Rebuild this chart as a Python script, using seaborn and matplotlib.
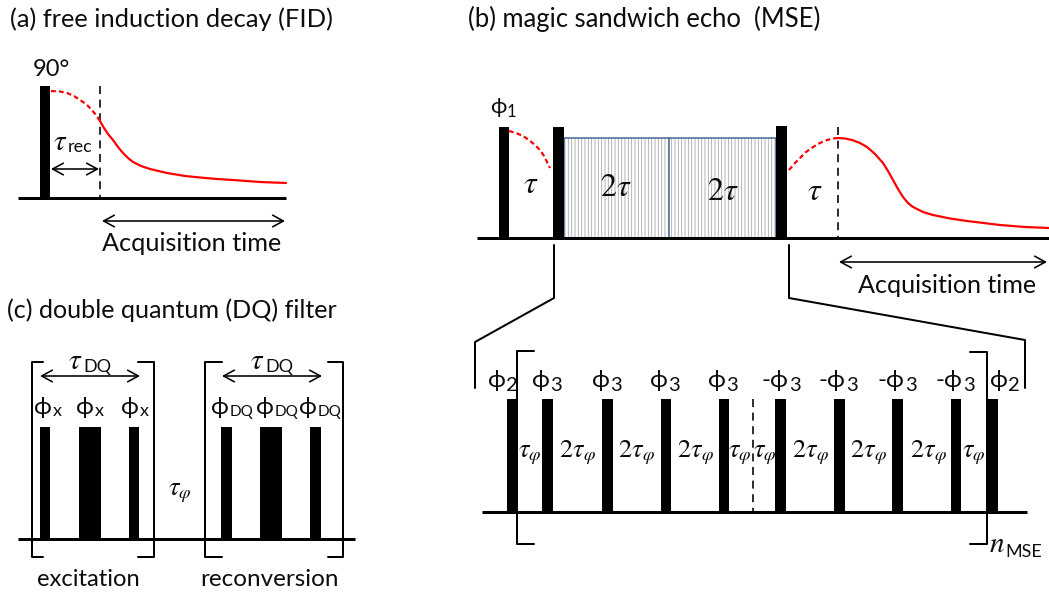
import numpy as np
import matplotlib
matplotlib.use("Agg")
import matplotlib.pyplot as plt
from matplotlib.patches import Rectangle
import seaborn as sns
import pandas as pd

# ---------------- data (schematic "time" positions, px units) -------------
titles = ["(a) free induction decay (FID)", "(b) magic sandwich echo  (MSE)", "(c) double quantum (DQ) filter"]

# (a) FID
fid_pulses = [(40, 50)]
fid_dash_x = [51, 60, 67, 74, 80, 86, 91, 96, 100]
fid_dash_y = [91, 91.5, 93, 96, 100, 104, 109, 115, 121]
fid_sig_x = [100, 104, 108, 113, 118, 123, 128, 133, 141, 150, 167, 185, 200, 217, 233, 260, 286]
fid_sig_y = [121, 128, 134, 140, 147, 153, 158, 162, 166, 169, 173, 176, 177.5, 179, 180, 182, 183]

# (b) MSE
mse_pulses = [(499, 509), (553, 564), (776, 787)]
mse_pulse_tops = [127, 127, 126]
mse_decay_x = [509, 516, 523, 529, 535, 540, 544, 547, 550]
mse_decay_y = [131, 133, 136, 140, 145, 150, 156, 162, 168]
echo_dash_x = [789, 795, 800, 806, 813, 820, 827, 833, 838]
echo_dash_y = [170, 163, 158, 152, 147, 143, 140, 138.5, 138]
echo_x = [838, 845, 852, 860, 867, 875, 883, 888, 893, 898, 903, 908, 913, 923, 933, 950, 967, 1000, 1025, 1049]
echo_y = [138, 138.5, 140, 143, 147, 154, 163, 171, 180, 189, 197, 203, 207, 212, 215, 218.5, 221, 225, 227, 228]
mse_delay_labels = ["τ", "2τ", "2τ", "τ"]
mse_delay_x = [531, 616, 723, 815]
mse_delay_y = [193, 196, 200, 200]

# MSE cycle (expanded)
cycle_pulses = [(507, 517), (542, 553), (602, 613), (661, 671), (719, 729),
                (775, 786), (834, 845), (892, 903), (951, 961), (987, 998)]
cycle_phase_main = ["ϕ", "ϕ", "ϕ", "ϕ", "ϕ", "-ϕ", "-ϕ", "-ϕ", "-ϕ", "ϕ"]
cycle_phase_sub = ["2", "3", "3", "3", "3", "3", "3", "3", "3", "2"]
cycle_phase_x = [503, 547, 607, 665, 723, 781, 838, 897, 955, 1005]
cycle_delay_main = ["", "2", "2", "2", "", "", "2", "2", "2", ""]
cycle_delay_x = [530, 577, 636, 695, 740, 765, 810, 868, 928, 974]

# (c) DQ filter
dq_pulses = [(40, 50), (79, 101), (129, 139), (221, 232), (260, 282), (310, 321)]
dq_phase_sub = ["x", "x", "x", "DQ", "DQ", "DQ"]
dq_phase_x = [48, 90, 135, 232, 277, 320]

# ---------------- style ----------------
sns.set_theme(style="white")
plt.rcParams["font.family"] = ["Lato", "DejaVu Sans"]
plt.rcParams["mathtext.fontset"] = "custom"
plt.rcParams["mathtext.rm"] = "Lato"
plt.rcParams["mathtext.it"] = "Lato:italic"
plt.rcParams["mathtext.fallback"] = "cm"
plt.rcParams["hatch.linewidth"] = 0.6
plt.rcParams["hatch.color"] = "#a8a8a8"

fig = plt.figure(figsize=(10.49, 5.92), dpi=100)
fig.patch.set_facecolor("white")
ax = fig.add_axes([0, 0, 1, 1])
ax.set_xlim(0, 1049)
ax.set_ylim(592, 0)
ax.axis("off")
renderer = fig.canvas.get_renderer()

PT = 0.72  # px -> pt
RED = "#ff0000"
INK = "#0d0d0d"
MATH = dict(math_fontfamily="stix")


def width(t):
    return t.get_window_extent(renderer).width


def fit_text(s, x0, x1, yb, base=15):
    t = ax.text(x0, yb, s, fontsize=base, ha="left", va="baseline", color=INK)
    t.set_fontsize(base * (x1 - x0) / width(t))
    return t


def sub_label(main, sub, xc, yb, size, sub_size, drop, main_kw=None, sub_kw=None, gap=0.5):
    t1 = ax.text(0, yb, main, fontsize=size, ha="left", va="baseline", color=INK, **(main_kw or {}))
    t2 = ax.text(0, yb + drop, sub, fontsize=sub_size, ha="left", va="baseline",
                 color=INK, **(sub_kw or {}))
    w1, w2 = width(t1), width(t2)
    x0 = xc - (w1 + w2 + gap) / 2
    t1.set_x(x0)
    t2.set_x(x0 + w1 + gap)


def draw_pulses(edges, tops, base):
    if np.isscalar(tops):
        tops = [tops] * len(edges)
    for (l, r), top in zip(edges, tops):
        ax.bar((l + r) / 2, top - base, width=r - l, bottom=base, color="black", linewidth=0, zorder=4)


def hline(x0, x1, y, lw=3):
    ax.plot([x0, x1], [y, y], color="black", lw=lw * PT, solid_capstyle="butt", zorder=3)


def vdash(x, y0, y1):
    ax.plot([x, x], [y0, y1], color="black", lw=1.6 * PT, dashes=(5, 3.5), zorder=3)


def darrow(x0, x1, y):
    ax.annotate("", xy=(x1, y), xytext=(x0, y),
                arrowprops=dict(arrowstyle="<->,head_length=0.55,head_width=0.3", lw=1.6 * PT,
                                color="black", shrinkA=0, shrinkB=0, mutation_scale=14))


def curve(x, y, dashed=False):
    df = pd.DataFrame({"x": x, "y": y})
    kw = dict(dashes=(2.2, 1.4)) if dashed else {}
    sns.lineplot(data=df, x="x", y="y", ax=ax, color=RED, lw=2.2 * PT, sort=False,
                 estimator=None, zorder=5, **kw)


# ---------------- titles ----------------
fit_text(titles[0], 10, 333, 27)
fit_text(titles[1], 468, 822, 27)
fit_text(titles[2], 7, 338, 318)

# ---------------- (a) FID ----------------
hline(18, 286, 198)
draw_pulses(fid_pulses, 86, 198)
vdash(100, 86, 198)
curve(fid_dash_x, fid_dash_y, dashed=True)
curve(fid_sig_x, fid_sig_y)
ax.text(51, 76, "90°", fontsize=17, ha="center", va="baseline", color=INK)
sub_label(r"$\tau$", "rec", 73, 150, 21, 13, 2, main_kw=MATH)
darrow(51, 99, 169)
darrow(102, 285, 221)
fit_text("Acquisition time", 102, 282, 251)

# ---------------- (b) MSE ----------------
hline(477, 1049, 238)
ax.add_patch(Rectangle((564, 138), 776 - 564, 238 - 138, facecolor="white", hatch="|||||",
                       edgecolor="#a8a8a8", lw=0, zorder=2))
ax.add_patch(Rectangle((564, 138), 776 - 564, 238 - 138, facecolor="none",
                       edgecolor="#4f6d9a", lw=1.6 * PT, zorder=2.5))
ax.plot([669, 669], [138, 238], color="#4f6d9a", lw=1.6 * PT, zorder=2.5)
draw_pulses(mse_pulses, mse_pulse_tops, 238)
vdash(838, 127, 238)
curve(mse_decay_x, mse_decay_y, dashed=True)
curve(echo_dash_x, echo_dash_y, dashed=True)
curve(echo_x, echo_y)
sub_label("ϕ", "1", 503, 113, 16, 12, 4)
for s, x, y in zip(mse_delay_labels, mse_delay_x, mse_delay_y):
    lab = r"$\tau$" if s == "τ" else r"$2\tau$"
    ax.text(x, y, lab, fontsize=23, ha="center", va="baseline", color=INK, **MATH)
darrow(839, 1047, 262)
fit_text("Acquisition time", 858, 1037, 293)

# connectors to expanded cycle
ax.plot([554, 554, 475, 475], [245, 298, 342, 388], color="black", lw=2 * PT, zorder=3)
ax.plot([789, 789, 1025, 1025], [245, 298, 340, 388], color="black", lw=2 * PT, zorder=3)

# ---------------- MSE cycle ----------------
hline(482, 1027, 512)
draw_pulses(cycle_pulses, 399, 512)
vdash(753, 399, 512)
ax.plot([534, 517, 517, 534], [351, 351, 544, 544], color="black", lw=2 * PT, zorder=3)
ax.plot([970, 987, 987, 970], [352, 352, 544, 544], color="black", lw=2 * PT, zorder=3)
for m, s, x in zip(cycle_phase_main, cycle_phase_sub, cycle_phase_x):
    sub_label(m, s, x, 387, 17.5, 14.5, 4)
for m, x in zip(cycle_delay_main, cycle_delay_x):
    ax.text(x, 457, "$" + m + r"\tau_{\varphi}$", fontsize=19, ha="center", va="baseline",
            color=INK, **MATH)
sub_label(r"$n$", "MSE", 1016, 552, 21, 13, 5, main_kw=MATH)

# ---------------- (c) DQ filter ----------------
hline(18, 355, 539)
draw_pulses(dq_pulses, 427, 539)
for xl, xt in [(32, 43), (205, 222)]:
    ax.plot([xt, xl, xl, xt], [362, 362, 557, 557], color="black", lw=2 * PT, zorder=3)
for xr, xt in [(154, 138), (343, 328)]:
    ax.plot([xt, xr, xr, xt], [362, 362, 557, 557], color="black", lw=2 * PT, zorder=3)
darrow(40, 140, 376)
darrow(222, 322, 376)
sub_label(r"$\tau$", "DQ", 90, 369, 21, 13, 3, main_kw=MATH)
sub_label(r"$\tau$", "DQ", 272, 369, 21, 13, 3, main_kw=MATH)
for s, x in zip(dq_phase_sub, dq_phase_x):
    sub_label("ϕ", s, x, 414, 17.5, 11 if s == "DQ" else 13, 2)
ax.text(180, 495, r"$\tau_{\varphi}$", fontsize=19, ha="center", va="baseline", color=INK, **MATH)
fit_text("excitation", 37, 140, 586)
fit_text("reconversion", 200, 338, 586)

fig.savefig("out.png", dpi=100, facecolor="white")
